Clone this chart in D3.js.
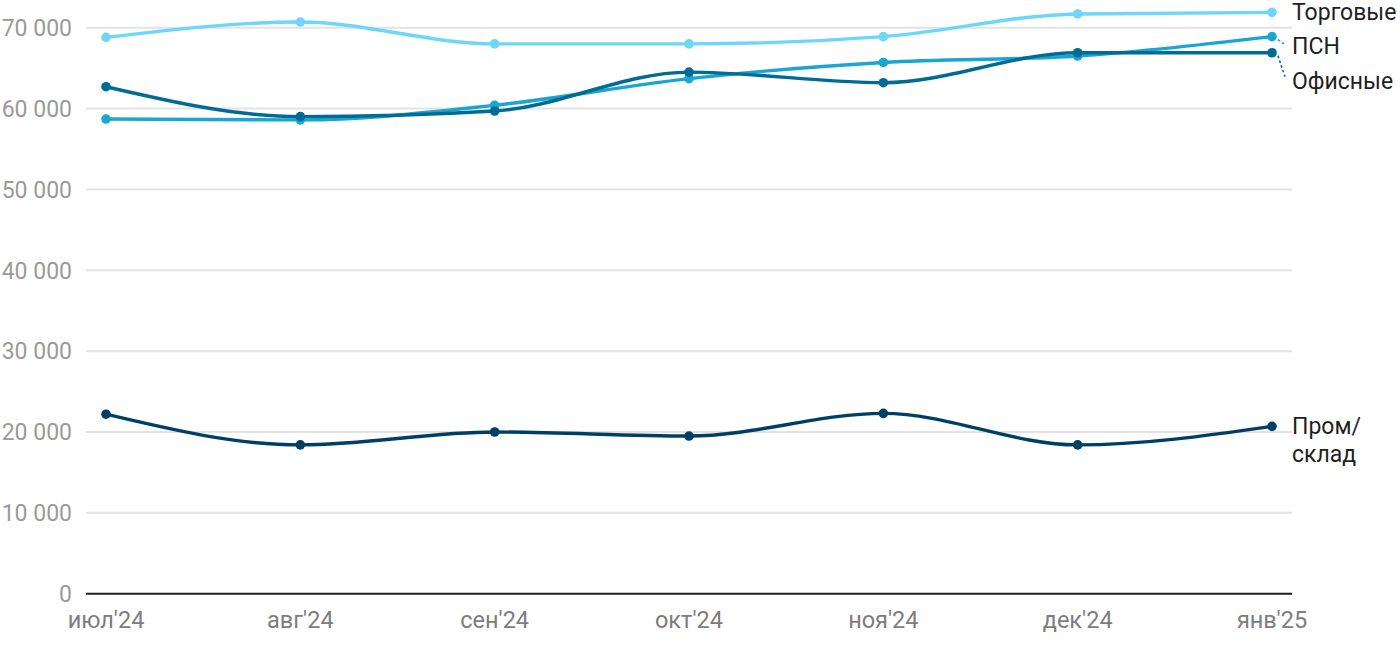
<!DOCTYPE html>
<html><head><meta charset="utf-8">
<script src="https://cdn.jsdelivr.net/npm/d3@7"></script>
<style>
html,body{margin:0;padding:0;background:#fff;}
svg{display:block;font-family:Roboto,"Noto Sans",sans-serif;}
</style></head>
<body>
<svg id="chart" width="1400" height="650"></svg>
<script>
const months = ["июл'24","авг'24","сен'24","окт'24","ноя'24","дек'24","янв'25"];
const yTicks = [0,10000,20000,30000,40000,50000,60000,70000];
const torgovye = [68800,70700,68000,68000,68900,71700,71900];
const psn = [58700,58600,60400,63700,65700,66500,68900];
const ofisnye = [62700,59000,59700,64500,63200,66900,66900];
const prom = [22200,18400,20000,19500,22300,18400,20700];
const seriesNames = [["Торговые"],["ПСН"],["Офисные"],["Пром/","склад"]];
const seriesColors = ["#6dd6fb","#1ba5d2","#006c95","#003f65"];
const labelShift = [0, 9, 28, 14];

const svg = d3.select("#chart");
const x = d3.scalePoint().domain(months).range([106,1272]);
const y = d3.scaleLinear().domain([0,70000]).range([593.7,27.7]);
const gridX0 = 86, gridX1 = 1292;

svg.append("g").selectAll("line").data(yTicks.filter(d=>d>0)).join("line")
  .attr("x1",gridX0).attr("x2",gridX1)
  .attr("y1",d=>y(d)).attr("y2",d=>y(d))
  .attr("stroke","#e3e3e3").attr("stroke-width",2);

const fmt = d => d3.format(",")(d).replace(/,/g," ");
svg.append("g").selectAll("text").data(yTicks).join("text")
  .attr("x",72).attr("y",d=>y(d)).attr("dy","0.36em")
  .attr("text-anchor","end").attr("font-size",23).attr("fill","#9a9a9a")
  .text(fmt);

svg.append("line").attr("x1",gridX0).attr("x2",gridX1)
  .attr("y1",y(0)).attr("y2",y(0)).attr("stroke","#1e1e1e").attr("stroke-width",2);

svg.append("g").selectAll("text").data(months).join("text")
  .attr("x",d=>x(d)).attr("y",628)
  .attr("text-anchor","middle").attr("font-size",23.5).attr("fill","#7d7d7d")
  .text(d=>d);

const data = [torgovye, psn, ofisnye, prom];
const line = d3.line().x((d,i)=>x(months[i])).y(d=>y(d)).curve(d3.curveMonotoneX);

const order = [3,0,1,2];
order.forEach(k=>{
  svg.append("path").datum(data[k]).attr("d",line)
    .attr("fill","none").attr("stroke",seriesColors[k]).attr("stroke-width",3.4)
    .attr("stroke-linejoin","round").attr("stroke-linecap","round");
});
order.forEach(k=>{
  svg.append("g").selectAll("circle").data(data[k]).join("circle")
    .attr("cx",(d,i)=>x(months[i])).attr("cy",d=>y(d)).attr("r",4.8)
    .attr("fill",seriesColors[k]);
});

data.forEach((vals,k)=>{
  const last = vals[vals.length-1];
  const ly = y(last) + labelShift[k];
  const names = seriesNames[k];
  const lh = 28;
  const top = ly - (names.length-1)*lh/2;
  const t = svg.append("text").attr("x",1292).attr("font-size",23).attr("fill","#1f1f1f");
  names.forEach((n,j)=>{
    t.append("tspan").attr("x",1292).attr("y",top + j*lh).attr("dy","0.35em").text(n);
  });
  if (labelShift[k] > 5 && names.length===1) {
    const lx = x(months[months.length-1]);
    svg.append("line")
      .attr("x1",lx+6).attr("y1",y(last)+3)
      .attr("x2",1285).attr("y2",ly - (k===2?4:1))
      .attr("stroke",seriesColors[k]).attr("stroke-width",1.6)
      .attr("stroke-dasharray","2.5,2.5");
  }
});
</script>
</body></html>
